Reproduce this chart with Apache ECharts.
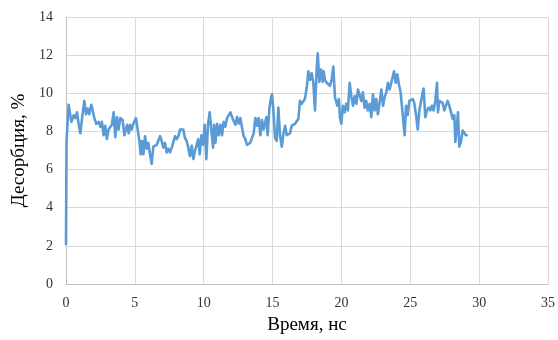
<!DOCTYPE html>
<html>
<head>
<meta charset="utf-8">
<script src="https://cdn.jsdelivr.net/npm/echarts@6/dist/echarts.min.js"></script>
<style>
  html, body { margin: 0; padding: 0; background: #ffffff; }
  #chart { width: 558px; height: 340px; }
</style>
</head>
<body>
<div id="chart"></div>
<script>
// Desorption (%) versus simulation time (ns)
const times = [
  0, 0.04, 0.1, 0.19, 0.31, 0.39, 0.56, 0.68, 0.8, 0.92, 1.04, 1.2, 1.33, 1.45, 1.57, 1.69, 1.84, 1.96,
  2.06, 2.2, 2.37, 2.49, 2.61, 2.73, 2.85, 2.97, 3.09, 3.33, 3.46, 3.58, 3.7, 3.82, 3.94, 4.11, 4.24,
  4.43, 4.55, 4.65, 4.77, 4.89, 5.08, 5.18, 5.33, 5.42, 5.52, 5.62, 5.74, 5.86, 5.98, 6.1, 6.22, 6.34,
  6.46, 6.59, 6.71, 6.83, 6.95, 7.07, 7.19, 7.31, 7.43, 7.55, 7.68, 7.8, 7.92, 8.04, 8.16, 8.28, 8.4,
  8.52, 8.64, 8.76, 8.88, 9.0, 9.13, 9.25, 9.37, 9.49, 9.6, 9.71, 9.83, 9.95, 10.07, 10.19, 10.31,
  10.43, 10.56, 10.68, 10.75, 10.85, 10.97, 11.09, 11.21, 11.33, 11.45, 11.57, 11.69, 11.82, 11.94,
  12.06, 12.18, 12.3, 12.42, 12.54, 12.66, 12.78, 12.9, 13.02, 13.14, 13.26, 13.38, 13.5, 13.63, 13.75,
  13.87, 13.99, 14.11, 14.23, 14.35, 14.55, 14.64, 14.77, 14.89, 14.96, 15.06, 15.18, 15.3, 15.42,
  15.54, 15.67, 15.79, 15.91, 16.03, 16.15, 16.27, 16.39, 16.51, 16.63, 16.75, 16.87, 16.99, 17.11,
  17.23, 17.35, 17.48, 17.6, 17.72, 17.84, 17.96, 18.08, 18.2, 18.28, 18.4, 18.52, 18.64, 18.71, 18.81,
  18.93, 19.05, 19.17, 19.29, 19.41, 19.53, 19.7, 19.82, 19.89, 19.99, 20.11, 20.23, 20.35, 20.47,
  20.6, 20.72, 20.84, 20.96, 21.08, 21.2, 21.32, 21.44, 21.56, 21.68, 21.8, 21.92, 22.05, 22.17, 22.29,
  22.41, 22.53, 22.65, 22.77, 22.9, 23.02, 23.14, 23.26, 23.38, 23.5, 23.62, 23.74, 23.82, 23.94,
  24.06, 24.18, 24.3, 24.43, 24.5, 24.59, 24.69, 24.81, 24.93, 25.05, 25.17, 25.29, 25.42, 25.54,
  25.66, 25.78, 25.9, 25.97, 26.09, 26.21, 26.33, 26.45, 26.57, 26.69, 26.82, 26.94, 27.01, 27.11,
  27.23, 27.35, 27.47, 27.59, 27.71, 27.83, 27.96, 28.08, 28.2, 28.27, 28.39, 28.46, 28.56, 28.68,
  28.8, 28.92, 29.04, 29.1
];

const desorption = [
  2.1, 7.5, 7.6, 9.4, 9.3, 8.5, 8.85, 8.7, 9.0, 8.4, 7.9, 8.9, 9.6, 8.9, 9.2, 8.9, 9.4, 9.3,
  8.7, 8.4, 8.5, 8.25, 8.5, 7.8, 8.3, 7.6, 8.1, 8.35, 9.0, 7.7, 8.75, 8.1, 8.7, 8.6, 7.8,
  8.35, 7.9, 8.35, 8.1, 8.4, 8.7, 8.8, 7.5, 6.8, 7.5, 6.8, 7.75, 7.1, 7.4, 6.8, 6.3, 7.2,
  7.25, 7.3, 7.25, 7.75, 7.5, 7.15, 7.4, 6.9, 7.1, 6.9, 7.15, 7.25, 7.75, 7.6, 7.75, 8.1, 8.1,
  8.1, 7.65, 7.5, 7.15, 6.7, 7.25, 6.55, 7.0, 7.3, 7.6, 6.8, 7.8, 7.3, 8.35, 6.55, 8.35,
  9.0, 8.0, 7.15, 8.35, 7.4, 8.4, 7.8, 8.35, 7.8, 8.5, 8.25, 8.7, 8.6, 9.0,
  8.75, 8.7, 8.35, 8.75, 8.4, 8.7, 8.2, 7.75, 7.6, 7.3, 7.25, 7.4, 7.65, 7.9, 8.7,
  8.3, 8.7, 7.8, 8.6, 8.1, 8.75, 7.8, 9.2, 9.8, 9.95, 9.1, 7.65, 7.5, 9.25,
  7.8, 7.2, 7.9, 8.3, 7.8, 7.8, 7.9, 8.3, 8.4, 8.4, 8.4, 8.65, 9.6, 9.45,
  9.45, 9.7, 10.3, 11.15, 10.7, 11.05, 10.55, 9.1, 11.2, 12.1, 10.6, 11.25, 10.6, 11.15, 10.7,
  10.55, 10.55, 10.4, 10.7, 11.4, 9.8, 9.35, 9.7, 8.75, 8.4, 9.35, 9.0, 9.45, 9.1,
  10.55, 9.85, 9.35, 9.85, 9.45, 10.2, 10.3, 9.6, 10.05, 9.25, 9.6, 9.1, 9.45, 8.75, 9.95,
  9.1, 9.7, 8.9, 9.5, 10.2, 9.35, 9.8, 10.05, 10.55, 10.2, 10.55, 10.65, 11.15, 10.55,
  11.0, 10.45, 10.05, 9.95, 8.5, 7.8, 9.35, 8.85, 9.6, 9.6, 9.7, 9.5, 8.85, 8.1,
  9.1, 9.0, 10.05, 10.25, 8.75, 9.1, 9.25, 9.1, 9.35, 9.1, 9.6, 10.55, 9.0, 9.6,
  9.7, 9.5, 9.1, 9.35, 9.6, 9.35, 9.0, 8.65, 8.85, 7.45, 8.3, 9.0, 7.2, 7.45,
  8.05, 8.05, 7.8, 7.8
];

const xTitle = 'Время, нс';
const yTitle = 'Десорбция, %';

const seriesData = times.map((t, i) => [t, desorption[i]]);

const chart = echarts.init(document.getElementById('chart'), null, { renderer: 'canvas' });

const serif = '"Liberation Serif", "Times New Roman", serif';
const gridGray = '#d9d9d9';

chart.setOption({
  animation: false,
  backgroundColor: '#ffffff',
  grid: { left: 66, right: 10, top: 17, bottom: 53 },
  xAxis: {
    type: 'value',
    min: 0, max: 35, interval: 5,
    name: xTitle,
    nameLocation: 'middle',
    nameGap: 32,
    nameTextStyle: { fontFamily: serif, fontSize: 19, color: '#000000' },
    axisLine: { show: true, lineStyle: { color: '#bfbfbf', width: 1 } },
    axisTick: { show: false },
    axisLabel: { fontFamily: serif, fontSize: 14, color: '#333333', margin: 12 },
    splitLine: { show: true, lineStyle: { color: gridGray, width: 1 } }
  },
  yAxis: {
    type: 'value',
    min: 0, max: 14, interval: 2,
    name: yTitle,
    nameLocation: 'middle',
    nameGap: 36,
    nameTextStyle: { fontFamily: serif, fontSize: 19, color: '#000000' },
    axisLine: { show: true, lineStyle: { color: '#bfbfbf', width: 1 } },
    axisTick: { show: false },
    axisLabel: { fontFamily: serif, fontSize: 14, color: '#333333', margin: 13 },
    splitLine: { show: true, lineStyle: { color: gridGray, width: 1 } }
  },
  series: [{
    type: 'line',
    data: seriesData,
    showSymbol: false,
    symbol: 'none',
    lineStyle: { color: '#5b9bd5', width: 2.6, join: 'round', cap: 'round' },
    itemStyle: { color: '#5b9bd5' }
  }]
});
</script>
</body>
</html>
